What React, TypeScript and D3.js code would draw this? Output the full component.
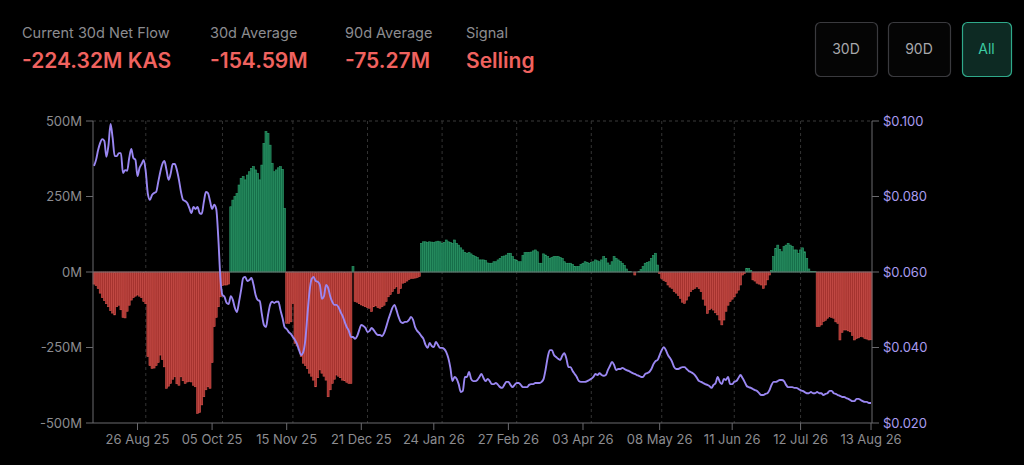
import React from "react";
import * as d3 from "d3";

// ---- Data ----
const flows: number[] = [
  -40,-45,-55,-70,-85,-95,-105,-115,-128,-136,
  -142,-115,-110,-125,-150,-152,-130,-110,-93,-85,
  -80,-76,-80,-85,-98,-105,-280,-310,-319,-318,
  -310,-300,-275,-290,-314,-385,-378,-369,-355,-347,
  -370,-375,-347,-360,-369,-364,-362,-364,-375,-380,
  -468,-465,-440,-413,-390,-380,-385,-300,-181,-150,
  -115,-82,-45,-43,-43,-40,216,238,250,260,
  288,310,316,305,321,332,343,349,338,327,
  305,354,426,465,459,420,360,332,338,345,
  349,340,211,-170,-170,-165,-104,-236,-245,-258,
  -280,-302,-310,-320,-335,-345,-358,-380,-350,-324,
  -335,-345,-358,-413,-390,-369,-355,-341,-345,-350,
  -358,-360,-365,-369,-369,18,-98,-100,-105,-109,
  -112,-115,-118,-120,-131,-115,-112,-118,-120,-115,
  -110,-98,-82,-75,-65,-55,-49,-71,-55,-37,
  -35,-30,-25,-21,-21,-20,-18,-15,95,100,
  100,98,100,99,98,100,102,100,95,98,
  106,100,98,95,106,95,89,80,73,65,
  62,64,60,55,51,48,40,40,40,38,
  30,29,29,34,34,40,45,51,53,56,
  62,62,51,42,38,34,34,55,64,64,
  64,66,70,73,67,29,29,60,56,51,
  45,48,51,51,51,48,45,34,29,29,
  29,25,18,18,18,25,29,34,32,29,
  32,34,40,37,34,40,51,45,30,23,
  34,51,45,40,35,29,22,10,1,1,
  0,-10,0,1,8,18,29,32,34,45,
  55,62,23,-5,-21,-28,-32,-43,-50,-54,
  -65,-70,-78,-87,-100,-104,-93,-80,-65,-58,
  -54,-49,-55,-65,-90,-110,-137,-125,-120,-126,
  -135,-142,-159,-175,-159,-130,-110,-98,-90,-82,
  -70,-60,-43,-10,-5,12,12,5,-26,-30,
  -37,-40,-43,-54,-43,-26,-10,5,51,78,
  89,75,67,84,89,95,89,85,73,73,
  62,73,80,67,45,10,2,1,1,-181,
  -180,-175,-164,-160,-153,-148,-150,-153,-165,-170,
  -225,-200,-192,-192,-195,-198,-210,-225,-220,-218,
  -214,-215,-220,-222,-225,-224.32,
];

const prices: number[] = [
  0.0881,0.0897,0.0923,0.0942,0.0952,0.0947,0.0905,0.0936,0.0992,0.0955,
  0.0907,0.0907,0.0915,0.0915,0.0862,0.0870,0.0868,0.0902,0.0926,0.0902,
  0.0897,0.0854,0.0876,0.0886,0.0897,0.0865,0.0807,0.0791,0.0804,0.0809,
  0.0812,0.0838,0.0865,0.0886,0.0894,0.0870,0.0844,0.0860,0.0886,0.0886,
  0.0870,0.0844,0.0812,0.0791,0.0788,0.0783,0.0770,0.0756,0.0772,0.0767,
  0.0772,0.0756,0.0754,0.0785,0.0812,0.0809,0.0788,0.0767,0.0778,0.0767,
  0.0690,0.0584,0.0539,0.0534,0.0518,0.0515,0.0536,0.0526,0.0505,0.0494,
  0.0521,0.0552,0.0584,0.0587,0.0576,0.0579,0.0584,0.0566,0.0539,0.0526,
  0.0523,0.0489,0.0460,0.0454,0.0486,0.0513,0.0521,0.0518,0.0521,0.0521,
  0.0499,0.0478,0.0454,0.0449,0.0441,0.0436,0.0428,0.0420,0.0409,0.0393,
  0.0380,0.0388,0.0420,0.0486,0.0547,0.0581,0.0587,0.0576,0.0574,0.0566,
  0.0529,0.0536,0.0566,0.0558,0.0536,0.0521,0.0513,0.0513,0.0507,0.0494,
  0.0483,0.0468,0.0454,0.0444,0.0428,0.0428,0.0423,0.0430,0.0446,0.0460,
  0.0457,0.0452,0.0441,0.0444,0.0452,0.0446,0.0438,0.0433,0.0433,0.0430,
  0.0438,0.0454,0.0473,0.0489,0.0505,0.0513,0.0499,0.0481,0.0468,0.0465,
  0.0468,0.0468,0.0473,0.0481,0.0473,0.0454,0.0444,0.0438,0.0430,0.0423,
  0.0407,0.0399,0.0412,0.0404,0.0401,0.0415,0.0407,0.0399,0.0399,0.0396,
  0.0388,0.0372,0.0346,0.0311,0.0322,0.0317,0.0303,0.0282,0.0285,0.0322,
  0.0322,0.0335,0.0317,0.0311,0.0311,0.0314,0.0322,0.0330,0.0319,0.0311,
  0.0317,0.0311,0.0303,0.0303,0.0306,0.0301,0.0295,0.0293,0.0301,0.0309,
  0.0309,0.0301,0.0295,0.0301,0.0306,0.0306,0.0301,0.0295,0.0295,0.0295,
  0.0301,0.0303,0.0303,0.0306,0.0306,0.0306,0.0309,0.0317,0.0343,0.0375,
  0.0393,0.0393,0.0380,0.0375,0.0370,0.0367,0.0378,0.0385,0.0370,0.0348,
  0.0348,0.0338,0.0330,0.0322,0.0311,0.0309,0.0309,0.0309,0.0311,0.0314,
  0.0317,0.0322,0.0330,0.0327,0.0332,0.0327,0.0325,0.0327,0.0340,0.0351,
  0.0362,0.0354,0.0340,0.0343,0.0343,0.0346,0.0343,0.0340,0.0338,0.0335,
  0.0332,0.0330,0.0327,0.0325,0.0322,0.0322,0.0330,0.0332,0.0335,0.0343,
  0.0356,0.0364,0.0367,0.0380,0.0393,0.0401,0.0393,0.0380,0.0372,0.0362,
  0.0348,0.0343,0.0343,0.0346,0.0348,0.0348,0.0343,0.0338,0.0335,0.0332,
  0.0327,0.0319,0.0311,0.0309,0.0306,0.0303,0.0301,0.0298,0.0293,0.0301,
  0.0306,0.0322,0.0309,0.0303,0.0317,0.0314,0.0322,0.0303,0.0303,0.0309,
  0.0311,0.0319,0.0327,0.0319,0.0309,0.0298,0.0295,0.0293,0.0290,0.0287,
  0.0285,0.0279,0.0274,0.0274,0.0277,0.0279,0.0287,0.0301,0.0309,0.0309,
  0.0311,0.0314,0.0314,0.0311,0.0301,0.0295,0.0295,0.0295,0.0293,0.0293,
  0.0290,0.0287,0.0285,0.0282,0.0279,0.0279,0.0282,0.0279,0.0279,0.0282,
  0.0279,0.0279,0.0274,0.0277,0.0279,0.0285,0.0285,0.0279,0.0277,0.0274,
  0.0272,0.0269,0.0269,0.0266,0.0264,0.0261,0.0258,0.0258,0.0264,0.0264,
  0.0261,0.0258,0.0256,0.0256,0.0253,0.0253,
];

const tickIdx: number[] = [21, 57, 93, 129, 164, 200, 236, 273, 308, 341, 375];
const tickLabels: string[] = [
  "26 Aug 25", "05 Oct 25", "15 Nov 25", "21 Dec 25", "24 Jan 26", "27 Feb 26",
  "03 Apr 26", "08 May 26", "11 Jun 26", "12 Jul 26", "13 Aug 26",
];
const gridIdx: number[] = [25, 62, 96, 132, 168, 204, 240, 274, 309, 341];

const flowTicks: number[] = [500, 250, 0, -250, -500];
const priceTicks: number[] = [0.1, 0.08, 0.06, 0.04, 0.02];

const statLabels: string[] = ["Current 30d Net Flow", "30d Average", "90d Average", "Signal"];
const statValues: string[] = ["-224.32M KAS", "-154.59M", "-75.27M", "Selling"];
const statX: number[] = [22, 210, 345, 466];

const ranges: string[] = ["30D", "90D", "All"];
const activeRange = "All";

const FONT = "Inter, 'Liberation Sans', Arial, sans-serif";

export default function App() {
  if (typeof document !== "undefined") {
    document.body.style.margin = "0";
    document.body.style.background = "#000";
  }
  const W = 1024, H = 465;
  const left = 93, right = 872, top = 121, bottom = 423;

  const idx = d3.range(flows.length);
  const x = d3.scaleBand<number>().domain(idx).range([left, right]).paddingInner(0.05);
  const xc = (i: number) => (x(i) as number) + x.bandwidth() / 2;
  const yL = d3.scaleLinear().domain([-500, 500]).range([bottom, top]);
  const yR = d3.scaleLinear().domain([0.02, 0.1]).range([bottom, top]);

  const line = d3.line<number>()
    .x((_, i) => xc(i))
    .y((d) => yR(d))
    .curve(d3.curveMonotoneX);

  const btnX = [815, 888, 962];
  const btnW = [62, 62, 49];

  return (
    <svg width={W} height={H} style={{ position: "absolute", left: 0, top: 0, background: "#000" }} fontFamily={FONT}>
      <rect x={0} y={0} width={W} height={H} fill="#000" />

      {/* header stats */}
      {statLabels.map((s, i) => (
        <text key={"l" + i} x={statX[i]} y={38} fill="#8c8c90" fontSize={14.5}>{s}</text>
      ))}
      {statValues.map((s, i) => (
        <text key={"v" + i} x={statX[i]} y={68} fill="#f0625f" fontSize={21} fontWeight={600}>{s}</text>
      ))}

      {/* range buttons */}
      {ranges.map((r, i) => {
        const act = r === activeRange;
        return (
          <g key={r}>
            <rect x={btnX[i] + 0.5} y={22.5} width={btnW[i]} height={54} rx={5}
              fill={act ? "#0d2a23" : "#050505"} stroke={act ? "#2fa98a" : "#3a3a3e"} strokeWidth={1.2} />
            <text x={btnX[i] + btnW[i] / 2} y={54} textAnchor="middle" fontSize={14}
              fill={act ? "#3ccaa2" : "#a8a8ac"}>{r}</text>
          </g>
        );
      })}

      {/* grid */}
      <line x1={left} x2={right} y1={top} y2={top} stroke="#3a3a3a" strokeDasharray="3,3" />
      {gridIdx.map((g) => (
        <line key={"g" + g} x1={xc(g)} x2={xc(g)} y1={top} y2={bottom} stroke="#333" strokeDasharray="3,3" />
      ))}

      {/* bars */}
      {flows.map((v, i) => {
        const y0 = yL(0), y1 = yL(v);
        const pos = v >= 0;
        return (
          <rect key={"b" + i} x={x(i)} width={x.bandwidth()} y={Math.min(y0, y1)} height={Math.abs(y1 - y0)}
            fill={pos ? "#166f4a" : "#a5332f"} stroke={pos ? "#2f9d6c" : "#d4544e"} strokeWidth={0.6} />
        );
      })}

      {/* zero line */}
      <line x1={left} x2={right} y1={yL(0)} y2={yL(0)} stroke="#6a6a6e" strokeWidth={1} />

      {/* axes lines */}
      <line x1={left} x2={left} y1={top} y2={bottom} stroke="#6a6a6e" />
      <line x1={right} x2={right} y1={top} y2={bottom} stroke="#6a6a6e" />
      <line x1={left} x2={right} y1={bottom} y2={bottom} stroke="#6a6a6e" />

      {/* price line */}
      <path d={line(prices) || ""} fill="none" stroke="#9a87f2" strokeWidth={1.9} strokeLinejoin="round" />

      {/* left axis */}
      {flowTicks.map((t) => (
        <g key={"lt" + t}>
          <line x1={left - 7} x2={left} y1={yL(t)} y2={yL(t)} stroke="#6a6a6e" />
          <text x={left - 11} y={yL(t) + 4.5} textAnchor="end" fontSize={13} fill="#8c8c90">{t + "M"}</text>
        </g>
      ))}

      {/* right axis */}
      {priceTicks.map((t) => (
        <g key={"rt" + t}>
          <line x1={right} x2={right + 7} y1={yR(t)} y2={yR(t)} stroke="#6a6a6e" />
          <text x={right + 11} y={yR(t) + 4.5} textAnchor="start" fontSize={13} fill="#a89cf0">{"$" + t.toFixed(3)}</text>
        </g>
      ))}

      {/* x axis */}
      {tickIdx.map((t, i) => (
        <g key={"xt" + t}>
          <line x1={xc(t)} x2={xc(t)} y1={bottom} y2={bottom + 7} stroke="#6a6a6e" />
          <text x={xc(t)} y={bottom + 21} textAnchor="middle" fontSize={13} fill="#8c8c90">{tickLabels[i]}</text>
        </g>
      ))}
    </svg>
  );
}
